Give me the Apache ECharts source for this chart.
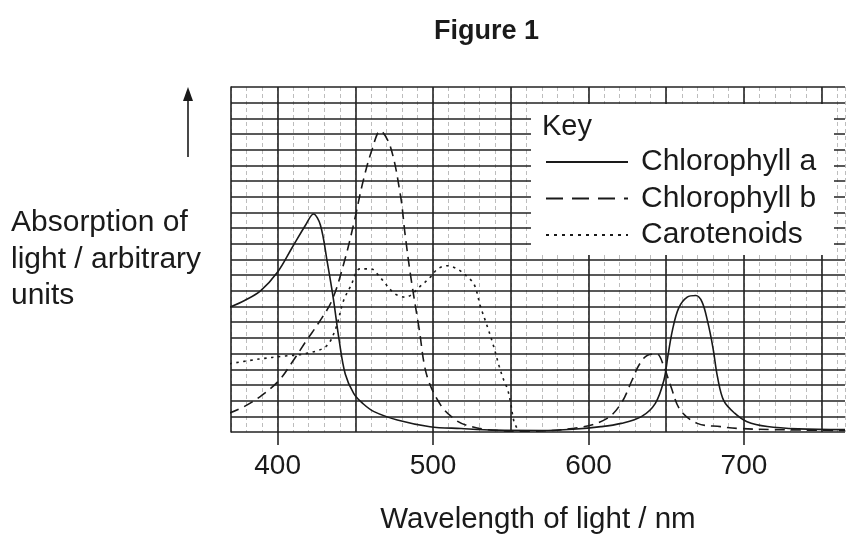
<!DOCTYPE html>
<html>
<head>
<meta charset="utf-8">
<script src="https://cdn.jsdelivr.net/npm/echarts@6/dist/echarts.min.js"></script>
<style>
  html, body { margin: 0; padding: 0; background: #fff; }
  #chart { width: 846px; height: 536px; }
</style>
</head>
<body>
<div id="chart"></div>
<script>
const FONT = '"Liberation Sans", Arial, sans-serif'
const INK = '#1a1a1a'

// wavelength (nm) / absorption (arbitrary units)
const chlANm = [369, 379, 389, 400, 409, 418, 423, 427.5, 432, 436, 439.5, 443.5, 449, 455, 462, 477, 498, 518, 540, 570, 590, 608, 621, 634, 643, 648.5, 651, 654, 658, 663.5, 669, 673, 676.5, 680, 683, 687, 694, 702, 715, 735, 765]
const chlAVal = [7.95, 8.4, 9.0, 10.2, 11.7, 13.2, 13.9, 13.2, 10.8, 8.4, 5.9, 3.7, 2.45, 1.8, 1.3, 0.77, 0.34, 0.22, 0.12, 0.1, 0.18, 0.34, 0.55, 0.98, 1.83, 3.3, 4.8, 6.5, 7.9, 8.6, 8.7, 8.3, 7.1, 5.4, 3.5, 2.0, 1.2, 0.66, 0.35, 0.2, 0.15]

const chlBNm = [369, 379, 390, 401, 409, 419, 426, 435, 443, 449, 455, 461, 466, 472.5, 479, 482, 485.5, 491, 496, 505, 514, 521, 535, 560, 595, 612, 621, 628, 632.5, 638, 644, 648.5, 653, 659, 670, 685, 696, 720, 765]
const chlBVal = [1.2, 1.65, 2.35, 3.3, 4.4, 5.9, 6.9, 8.4, 10.9, 13.3, 16.0, 18.1, 19.2, 18.2, 15.1, 12.6, 10.0, 6.6, 3.6, 1.7, 0.8, 0.45, 0.15, 0.05, 0.3, 0.87, 1.83, 3.3, 4.27, 4.9, 4.97, 4.17, 2.9, 1.4, 0.55, 0.34, 0.23, 0.15, 0.1]

const carNm = [369, 388, 405, 418, 431, 437, 442.5, 447, 453, 460, 466, 475, 482, 493, 498, 503, 509, 515.5, 522, 526.5, 530.5, 535, 539, 542.5, 545.5, 548, 550, 552, 555]
const carVal = [4.35, 4.65, 4.85, 5.0, 5.45, 6.5, 8.4, 9.3, 10.4, 10.4, 9.85, 8.85, 8.6, 9.4, 9.85, 10.4, 10.6, 10.4, 9.9, 9.4, 8.0, 6.7, 5.45, 4.2, 3.3, 2.7, 1.8, 0.7, 0.05]

const xTickLabels = [400, 500, 600, 700]
const seriesNames = ['Chlorophyll a', 'Chlorophyll b', 'Carotenoids']

function pairs(xs, ys) {
  return xs.map((x, i) => [x, ys[i]])
}

const chart = echarts.init(document.getElementById('chart'))

const baseX = {
  type: 'value',
  min: 370,
  max: 765,
  interval: 10,
  axisLine: { show: false, onZero: false },
  axisTick: { show: false },
  axisLabel: { show: false },
  splitLine: { show: false }
}

const clear = 'rgba(0,0,0,0)'

const option = {
  animation: false,
  textStyle: { fontFamily: FONT },
  title: {
    text: 'Figure 1',
    left: 429,
    top: 13,
    textStyle: { fontFamily: FONT, fontSize: 27, fontWeight: 'bold', color: INK }
  },
  grid: {
    left: 231,
    right: 1,
    top: 87,
    bottom: 104,
    outerBoundsMode: 'none'
  },
  legend: {
    orient: 'vertical',
    left: 545,
    top: 147,
    padding: 0,
    itemWidth: 82,
    itemHeight: 14,
    itemGap: 6.5,
    z: 20,
    data: [
      { name: seriesNames[0] },
      { name: seriesNames[1], lineStyle: { type: [17, 9] } },
      { name: seriesNames[2], lineStyle: { type: [3, 5] } }
    ],
    itemStyle: { color: clear, borderWidth: 0, opacity: 0 },
    textStyle: {
      fontFamily: FONT,
      fontSize: 30,
      lineHeight: 30,
      color: INK,
      padding: [0, 0, 0, 8]
    }
  },
  xAxis: [
    {
      ...baseX,
      z: 3,
      name: 'Wavelength of light / nm',
      nameLocation: 'middle',
      nameGap: 73,
      nameTextStyle: { fontFamily: FONT, fontSize: 29.5, color: INK },
      axisTick: {
        show: true,
        inside: false,
        length: 13,
        customValues: xTickLabels,
        lineStyle: { color: INK, width: 1.5 }
      },
      axisLabel: {
        show: true,
        customValues: xTickLabels,
        margin: 20,
        fontFamily: FONT,
        fontSize: 28,
        color: INK
      }
    },
    {
      // every 50 nm: dark grid lines
      ...baseX,
      z: 2,
      splitLine: {
        show: true,
        lineStyle: {
          color: [clear, clear, clear, '#222', clear],
          width: 1.6
        }
      }
    },
    {
      // every 10 nm: faint grid lines
      ...baseX,
      z: 1,
      splitLine: {
        show: true,
        lineStyle: { color: '#bdbdbd', width: 1, type: [4, 3] }
      }
    }
  ],
  yAxis: {
    type: 'value',
    min: 0,
    max: 22,
    interval: 1,
    z: 2,
    name: 'Absorption of\nlight / arbitrary\nunits',
    nameLocation: 'middle',
    nameRotate: 0,
    nameGap: 220,
    nameTextStyle: {
      fontFamily: FONT,
      fontSize: 30,
      lineHeight: 36.5,
      color: INK,
      align: 'left',
      verticalAlign: 'middle'
    },
    axisLine: { show: true, onZero: false, lineStyle: { color: '#222', width: 1.6 } },
    axisTick: { show: false },
    axisLabel: { show: false },
    splitLine: { show: true, lineStyle: { color: '#222', width: 1.7 } }
  },
  graphic: [
    {
      type: 'rect',
      z: 10,
      shape: { x: 531, y: 104, width: 303, height: 151 },
      style: { fill: '#fff' }
    },
    {
      type: 'text',
      z: 21,
      x: 542,
      y: 112,
      style: { text: 'Key', fontFamily: FONT, fontSize: 29, fill: INK }
    },
    {
      type: 'line',
      z: 21,
      shape: { x1: 188, y1: 157, x2: 188, y2: 96 },
      style: { stroke: INK, lineWidth: 1.6 }
    },
    {
      type: 'polygon',
      z: 21,
      shape: { points: [[188, 87], [183, 101], [193, 101]] },
      style: { fill: INK }
    }
  ],
  series: [
    {
      name: seriesNames[0],
      type: 'line',
      data: pairs(chlANm, chlAVal),
      smooth: 0.35,
      showSymbol: false,
      symbol: 'none',
      z: 5,
      lineStyle: { color: INK, width: 1.6, type: 'solid' },
      itemStyle: { color: INK }
    },
    {
      name: seriesNames[1],
      type: 'line',
      data: pairs(chlBNm, chlBVal),
      smooth: 0.35,
      showSymbol: false,
      symbol: 'none',
      z: 5,
      lineStyle: { color: INK, width: 1.6, type: [10, 6] },
      itemStyle: { color: INK }
    },
    {
      name: seriesNames[2],
      type: 'line',
      data: pairs(carNm, carVal),
      smooth: 0.35,
      showSymbol: false,
      symbol: 'none',
      z: 5,
      lineStyle: { color: INK, width: 1.6, type: [2.5, 4.5] },
      itemStyle: { color: INK }
    }
  ]
}

chart.setOption(option)
window.addEventListener('resize', () => {
  chart.resize()
})
</script>
</body>
</html>
